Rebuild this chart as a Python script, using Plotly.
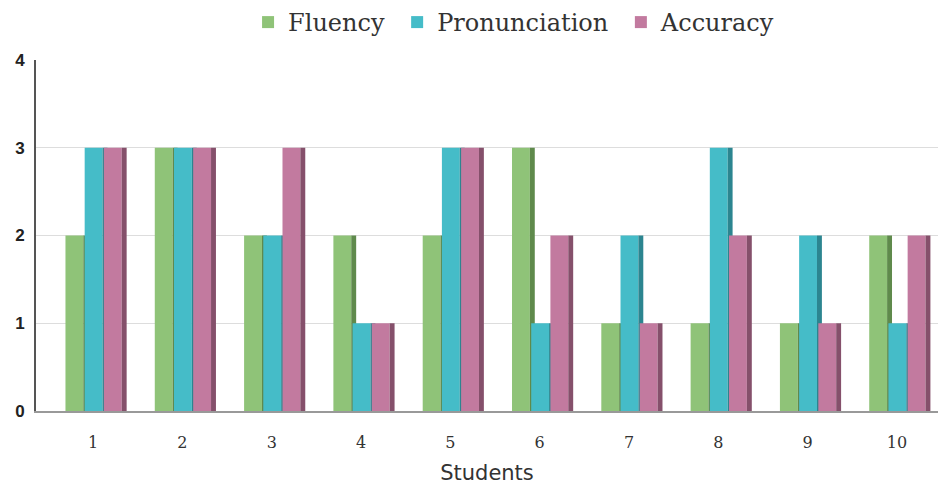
import plotly.graph_objects as go

students = [1, 2, 3, 4, 5, 6, 7, 8, 9, 10]
fluency = [2, 3, 2, 2, 2, 3, 1, 1, 1, 2]
pronunciation = [3, 3, 2, 1, 3, 1, 2, 3, 2, 1]
accuracy = [3, 3, 3, 1, 3, 2, 1, 2, 1, 2]
series_names = ["Fluency", "Pronunciation", "Accuracy"]
face_colors = ["#8fc378", "#45bcc8", "#c27a9f"]
side_colors = ["#5f8a4c", "#2c8590", "#85506b"]

series = [fluency, pronunciation, accuracy]
main_w = 0.2
side_w = 0.055
offsets = [-0.31, -0.095, 0.12]
legend_pad = ["\u00a0", "\u00a0", ""]

fig = go.Figure()
for name, vals, fc, sc, off, pad in zip(series_names, series, face_colors, side_colors, offsets, legend_pad):
    fig.add_trace(go.Bar(
        x=students, y=vals, name=name + pad, marker=dict(color=fc, line=dict(width=0)),
        width=main_w, offset=off, showlegend=True,
    ))
    fig.add_trace(go.Bar(
        x=students, y=vals, name=name + " side", marker=dict(color=sc, line=dict(width=0)),
        width=side_w, offset=off + main_w, showlegend=False, hoverinfo="skip",
    ))

fig.update_layout(
    width=944, height=485,
    margin=dict(l=36, r=6, t=60, b=74),
    barmode="overlay",
    plot_bgcolor="white", paper_bgcolor="white",
    legend=dict(
        orientation="h", x=0.53, xanchor="center",
        yref="container", y=1.0, yanchor="top",
        font=dict(family="DejaVu Serif", size=24, color="#333"),
        traceorder="normal", itemsizing="constant",
    ),
    xaxis=dict(
        range=[0.36, 10.46], tickmode="array", tickvals=students,
        ticktext=[str(s) for s in students],
        tickfont=dict(family="DejaVu Serif", size=16, color="#333"),
        showgrid=False, showline=True, linecolor="#999", linewidth=2,
        ticks="", ticklabelstandoff=16, automargin=False,
        title=dict(text="Students", font=dict(family="DejaVu Sans", size=21, color="#333"), standoff=18),
        zeroline=False,
    ),
    yaxis=dict(
        range=[0, 4], tickvals=[0, 1, 2, 3, 4],
        tickfont=dict(family="Liberation Sans", size=17, color="#222", weight="bold"),
        showgrid=True, gridcolor="#dddddd", gridwidth=1,
        showline=True, linecolor="#555", linewidth=2,
        zeroline=False, ticks="", ticklabelstandoff=6, automargin=False,
    ),
)
fig.write_html("out.html")
